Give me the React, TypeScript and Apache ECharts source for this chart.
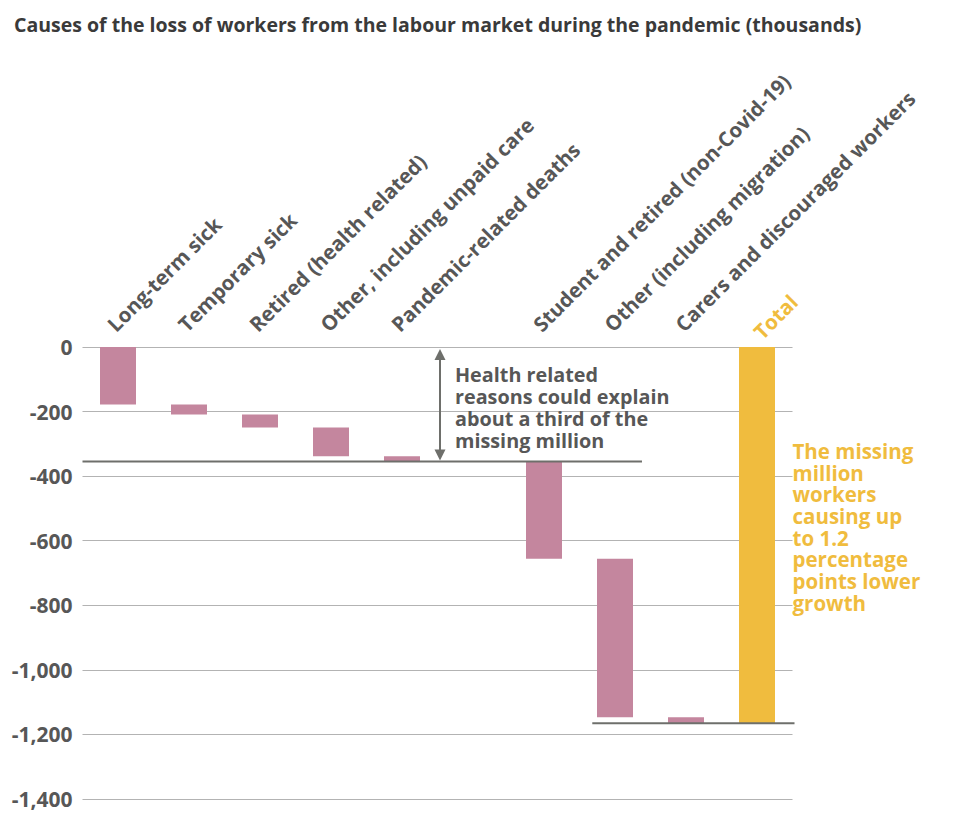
import React, { useEffect, useRef } from "react";
import * as echarts from "echarts";

const titleText =
  "Causes of the loss of workers from the labour market during the pandemic (thousands)";

const categories = [
  "Long-term sick",
  "Temporary sick",
  "Retired (health related)",
  "Other, including unpaid care",
  "Pandemic-related deaths",
  "",
  "Student and retired (non-Covid-19)",
  "Other (including migration)",
  "Carers and discouraged workers",
  "Total",
];

// change (thousands) contributed by each cause; null = empty slot
const changes: (number | null)[] = [-178, -31, -40, -89, -16, null, -302, -491, -18, null];
const totalValue = -1165;
const healthSubtotal = -355;

const yMin = -1400;
const yMax = 0;
const yInterval = 200;

const healthNote = ["Health related", "reasons could explain", "about a third of the", "missing million"];
const totalNote = [
  "The missing",
  "million",
  "workers",
  "causing up",
  "to 1.2",
  "percentage",
  "points lower",
  "growth",
];

const PINK = "#c4869e";
const YELLOW = "#f0bc3e";
const GREY_TEXT = "#575757";
const DARK_LINE = "#6e6f6b";
const FONT = "'Open Sans', 'Noto Sans', sans-serif";

export default function App() {
  const ref = useRef<HTMLDivElement>(null);

  useEffect(() => {
    if (!ref.current) return;
    const chart = echarts.init(ref.current, undefined, { renderer: "svg" });

    // waterfall: invisible base + visible delta
    const base: (number | null)[] = [];
    const delta: any[] = [];
    let running = 0;
    changes.forEach((c, i) => {
      if (categories[i] === "Total") {
        base.push(null);
        delta.push({ value: totalValue, itemStyle: { color: YELLOW } });
      } else if (c === null) {
        base.push(null);
        delta.push(null);
      } else {
        base.push(running === 0 ? null : running);
        delta.push(c);
        running += c;
      }
    });

    const xData = categories.map((c) =>
      c === "Total" ? { value: c, textStyle: { color: YELLOW } } : c
    );

    chart.setOption({
      animation: false,
      title: {
        text: titleText,
        left: 9,
        top: 9,
        textStyle: { fontFamily: FONT, fontSize: 19.5, fontWeight: "bold", color: "#3a3a3a" },
      },
      grid: { left: 82.5, right: 167.5, top: 347, bottom: 28, containLabel: false },
      xAxis: {
        type: "category",
        position: "top",
        data: xData,
        axisLine: { show: false },
        axisTick: { show: false },
        axisLabel: {
          interval: 0,
          rotate: 45,
          margin: 12,
          verticalAlign: "bottom",
          fontFamily: FONT,
          fontSize: 20.5,
          fontWeight: "bold",
          color: GREY_TEXT,
        },
      },
      yAxis: {
        type: "value",
        min: yMin,
        max: yMax,
        interval: yInterval,
        axisLine: { show: false },
        axisTick: { show: false },
        splitLine: { lineStyle: { color: "#b3b3b3", width: 1.2 } },
        axisLabel: {
          margin: 10,
          fontFamily: FONT,
          fontSize: 21,
          fontWeight: "bold",
          color: GREY_TEXT,
          formatter: (v: number) => v.toLocaleString("en-US"),
        },
      },
      series: [
        {
          type: "bar",
          stack: "w",
          data: base,
          barWidth: 36,
          itemStyle: { color: "transparent" },
          silent: true,
        },
        {
          type: "bar",
          stack: "w",
          data: delta,
          barWidth: 36,
          itemStyle: { color: PINK },
        },
      ],
    });

    const py = (v: number) => chart.convertToPixel({ yAxisIndex: 0 }, v) as number;
    const px = (i: number) => chart.convertToPixel({ xAxisIndex: 0 }, i) as number;
    const band = px(1) - px(0);
    const y0 = py(0);
    const yH = py(healthSubtotal);
    const yT = py(totalValue);
    const ax = px(4) + band * 0.535;

    chart.setOption({
      graphic: [
        {
          type: "line",
          shape: { x1: px(0) - band / 2, y1: yH, x2: px(7) + band * 0.38, y2: yH },
          style: { stroke: DARK_LINE, lineWidth: 2 },
          z: 10,
        },
        {
          type: "line",
          shape: { x1: px(7) - band * 0.32, y1: yT, x2: px(9) + band / 2 + 2, y2: yT },
          style: { stroke: DARK_LINE, lineWidth: 2 },
          z: 10,
        },
        {
          type: "line",
          shape: { x1: ax, y1: y0 + 6, x2: ax, y2: yH - 6 },
          style: { stroke: DARK_LINE, lineWidth: 2 },
          z: 10,
        },
        {
          type: "polygon",
          shape: { points: [[ax, y0 + 2], [ax - 5.5, y0 + 13], [ax + 5.5, y0 + 13]] },
          style: { fill: DARK_LINE },
          z: 10,
        },
        {
          type: "polygon",
          shape: { points: [[ax, yH - 1], [ax - 5.5, yH - 12], [ax + 5.5, yH - 12]] },
          style: { fill: DARK_LINE },
          z: 10,
        },
        {
          type: "text",
          x: ax + 15,
          y: y0 + 17,
          style: {
            text: healthNote.join("\n"),
            font: `bold 19.8px ${FONT}`,
            fill: GREY_TEXT,
            lineHeight: 21.8,
            verticalAlign: "top",
          },
          z: 10,
        },
        {
          type: "text",
          x: px(9) + band / 2,
          y: y0 + 93,
          style: {
            text: totalNote.join("\n"),
            font: `bold 20.5px ${FONT}`,
            fill: YELLOW,
            lineHeight: 21.7,
            verticalAlign: "top",
          },
          z: 10,
        },
      ],
    });

    return () => chart.dispose();
  }, []);

  return (
    <div
      ref={ref}
      style={{ position: "absolute", left: 0, top: 0, width: 960, height: 827, background: "#fff" }}
    />
  );
}
